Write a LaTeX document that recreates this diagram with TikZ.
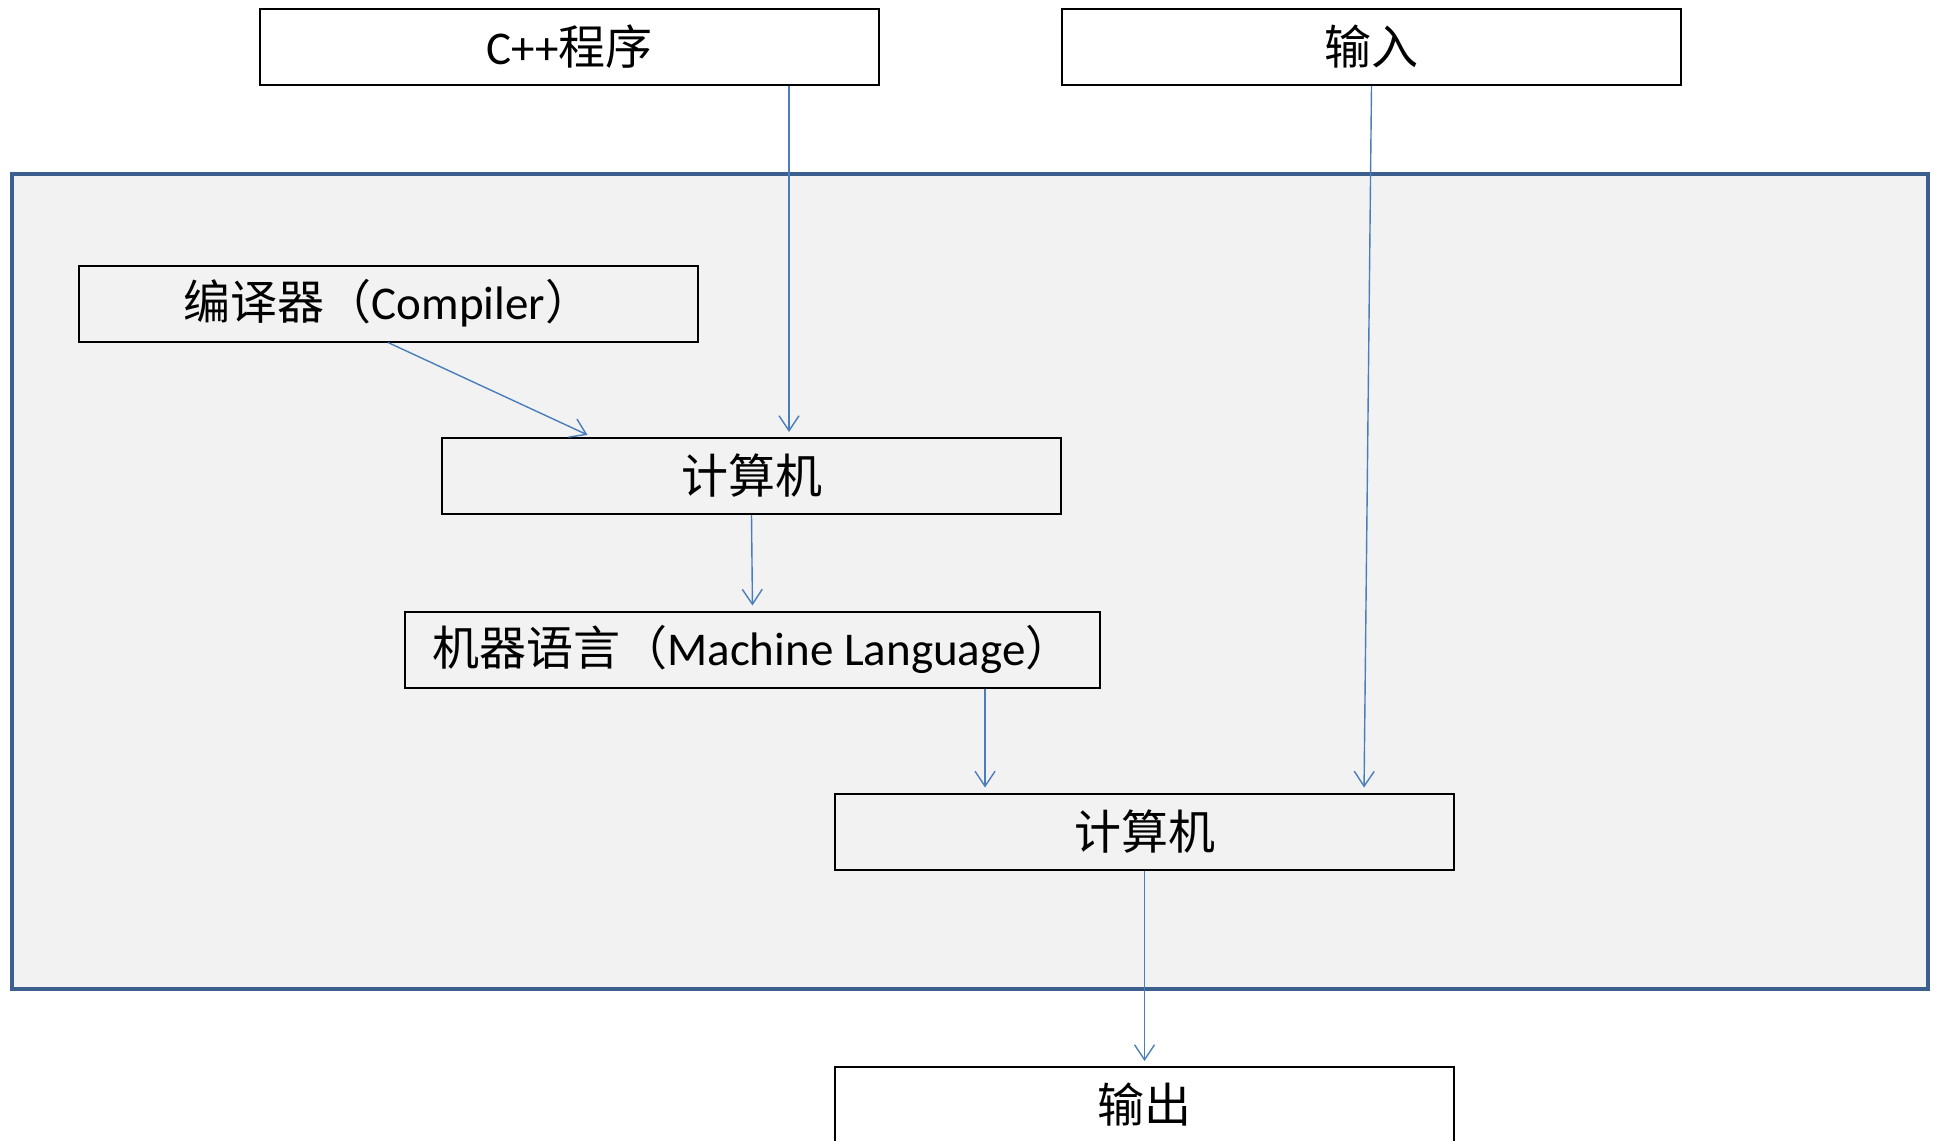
\documentclass[tikz,border=0pt]{standalone}
\usepackage{fontspec}
\usepackage{tikz}
\usetikzlibrary{arrows.meta}
\setmainfont{Carlito}
\newfontfamily\cjk{Noto Sans CJK SC}
\definecolor{framecol}{HTML}{3C5F8E}
\definecolor{panelcol}{HTML}{F2F2F2}
\definecolor{flowcol}{HTML}{4A7EBB}

\begin{document}
\begin{tikzpicture}[x=0.5pt, y=-0.5pt,
		box/.style={draw, line width=1pt, minimum width=309.5pt, minimum height=38pt, inner sep=0pt, font=\fontsize{23.5}{28}\selectfont},
		flow/.style={draw=flowcol, line width=0.7pt, -{Straight Barb[length=7.5pt, width=10pt]}, shorten >=2.5pt}]

		\useasboundingbox (0,0) rectangle (1934,1141);

		% outer panel
		\filldraw[fill=panelcol, draw=framecol, line width=2.1pt] (12,174) rectangle (1928,989);

		\node[box, fill=white] (cpp) at (569.5,47) {C++{\cjk 程序}};
		\node[box, fill=white] (input) at (1371.5,47) {\cjk 输入};
		\node[box] (compiler) at (388,303.5) {{\cjk 编译器（}Compiler{\cjk ）}};
		\node[box] (comp1) at (751.5,476) {\cjk 计算机};
		\node[box, minimum width=347.5pt] (mlang) at (752.5,649.5) {{\cjk 机器语言（}Machine Language{\cjk ）}};
		\node[box] (comp2) at (1144.5,831.5) {\cjk 计算机};
		\node[box, fill=white] (output) at (1144.5,1105) {\cjk 输出};

		\draw[flow] ([xshift=109.75pt]cpp.south) -- ([xshift=18.75pt]comp1.north);
		\draw[flow] (input.south) -- ([xshift=109.75pt]comp2.north);
		\draw[flow] (compiler.south) -- ([xshift=-79.75pt]comp1.north);
		\draw[flow] (comp1.south) -- (mlang.north);
		\draw[flow] ([xshift=116.25pt]mlang.south) -- ([xshift=-79.75pt]comp2.north);
		\draw[flow] (comp2.south) -- (output.north);

\end{tikzpicture}
\end{document}
